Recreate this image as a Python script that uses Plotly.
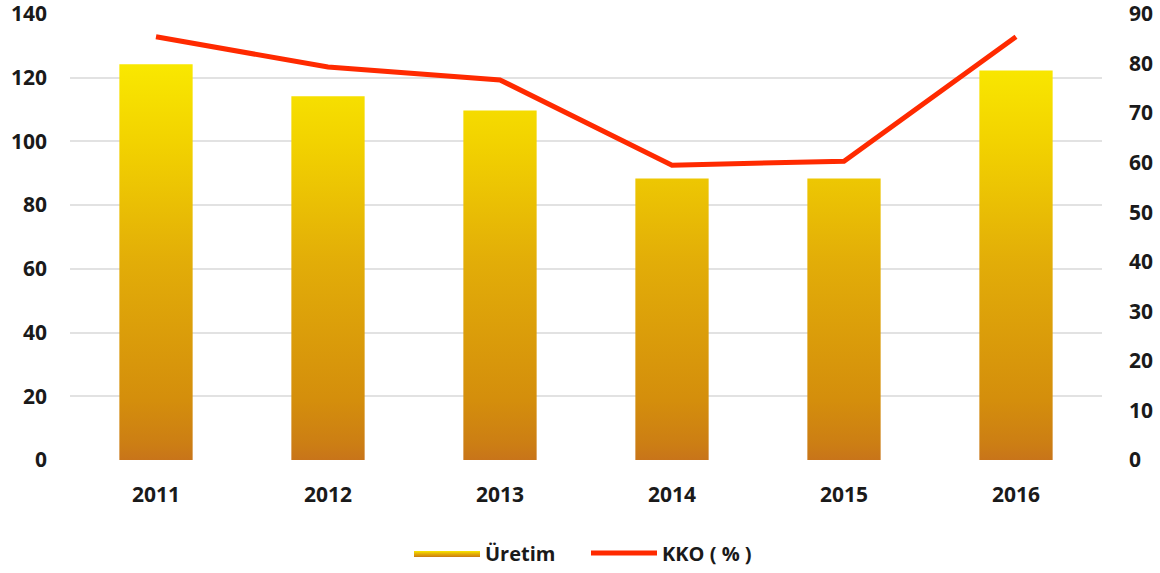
import plotly.graph_objects as go

years = ["2011", "2012", "2013", "2014", "2015", "2016"]
uretim = [124.2, 114.2, 109.7, 88.4, 88.4, 122.3]
kko = [85.4, 79.3, 76.7, 59.5, 60.3, 85.4]
left_ticks = [0, 20, 40, 60, 80, 100, 120, 140]
right_ticks = [0, 10, 20, 30, 40, 50, 60, 70, 80, 90]

BAR_HALF = 0.213
FONT = "Open Sans"

idx = list(range(len(years)))

# bar polygons built from the data, separated by gaps
bx, by = [], []
for i, v in zip(idx, uretim):
    bx += [i - BAR_HALF, i + BAR_HALF, i + BAR_HALF, i - BAR_HALF, i - BAR_HALF, None]
    by += [0, 0, v, v, 0, None]

fig = go.Figure()
fig.add_trace(go.Scatter(
    x=bx, y=by, mode="lines", fill="toself", name="Üretim",
    line=dict(width=0, color="rgba(0,0,0,0)"),
    fillcolor="#E5B90C",
    fillgradient=dict(
        type="vertical", start=0, stop=max(uretim),
        colorscale=[[0, "#C8741A"], [0.04, "#CC7E14"], [0.15, "#D48E0C"],
                    [0.5, "#E2AD08"], [0.8, "#F2D200"], [1, "#F9E800"]],
    ),
    hoverinfo="skip",
))
fig.add_trace(go.Scatter(
    x=idx, y=kko, mode="lines", name="KKO ( % )", yaxis="y2",
    line=dict(color="#FF2A00", width=5),
))

tickfont = dict(family=FONT, size=21, color="#1a1a1a", weight="bold")
fig.update_layout(
    width=1160, height=573,
    margin=dict(l=70, r=58, t=14, b=113),
    paper_bgcolor="white", plot_bgcolor="white",
    showlegend=True,
    legend=dict(orientation="h", x=0.5, xanchor="center", yref="container",
                y=0.035, yanchor="middle", itemwidth=66, entrywidth=96,
                font=dict(family=FONT, size=20, color="#1a1a1a", weight="bold")),
    xaxis=dict(range=[-0.5, 5.5], tickvals=idx, ticktext=years, showgrid=False,
               zeroline=False, showline=False, tickfont=tickfont,
               ticks="outside", ticklen=16, tickcolor="rgba(0,0,0,0)",
               automargin=False),
    yaxis=dict(range=[0, 140], tickvals=left_ticks, showgrid=True,
               gridcolor="#E2E2E2", gridwidth=1.5, zeroline=False, showline=False,
               tickfont=tickfont, ticklabelstandoff=22, automargin=False,
               ticklabeloverflow="allow"),
    yaxis2=dict(range=[0, 90], tickvals=right_ticks, overlaying="y", side="right",
                showgrid=False, zeroline=False, showline=False,
                tickfont=tickfont, ticklabelstandoff=26, automargin=False,
                ticklabeloverflow="allow"),
)

fig.write_html("out.html", config={"displayModeBar": False},
               post_script="document.body.style.margin='0px';document.body.style.overflow='hidden';")
